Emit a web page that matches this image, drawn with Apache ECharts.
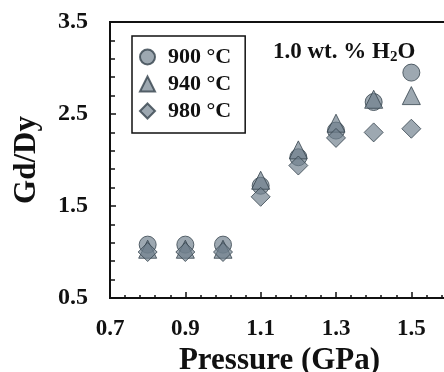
<!DOCTYPE html>
<html>
<head>
<meta charset="utf-8">
<script src="https://cdn.jsdelivr.net/npm/echarts@6/dist/echarts.min.js"></script>
<style>
  html, body { margin: 0; padding: 0; background: #fff; }
  #chart { width: 444px; height: 372px; }
</style>
</head>
<body>
<div id="chart"></div>
<script>
// pressure (GPa) and Gd/Dy for each temperature
var pressure = [0.8, 0.9, 1.0, 1.1, 1.2, 1.3, 1.4, 1.5];
var gd900 = [1.08, 1.08, 1.08, 1.72, 2.03, 2.32, 2.63, 2.95];
var gd940 = [1.03, 1.03, 1.03, 1.78, 2.11, 2.40, 2.66, 2.70];
var gd980 = [1.00, 1.00, 1.00, 1.60, 1.94, 2.24, 2.30, 2.34];
var seriesNames = ['900 °C', '940 °C', '980 °C'];

var font = '"Liberation Serif", "DejaVu Serif", serif';

function pairs(ys) {
    var out = [];
    for (var i = 0; i < pressure.length; i++) out.push([pressure[i], ys[i]]);
    return out;
}

lzh_chart();
function lzh_chart() {
    var dom = document.getElementById('chart');
    var myChart = echarts.init(dom, null, { renderer: 'canvas' });

    var markStyle = {
        color: 'rgba(112,128,140,0.85)',
        borderColor: '#34424c',
        borderWidth: 1
    };

    var option = {
        animation: false,
        backgroundColor: '#fff',
        title: {
            text: '1.0 wt. % H{s|2}O',
            left: 268,
            top: 34,
            textStyle: {
                fontFamily: font, fontSize: 23, fontWeight: 'bold', color: '#111',
                rich: {
                    s: { fontFamily: font, fontSize: 15, fontWeight: 'bold', color: '#111', padding: [11, 0, 0, 0] }
                }
            }
        },
        legend: {
            orient: 'vertical',
            left: 132,
            top: 36,
            padding: [10, 14, 11, 7],
            itemGap: 5,
            itemWidth: 15,
            itemHeight: 15,
            borderColor: '#111',
            borderWidth: 1.5,
            textStyle: { fontFamily: font, fontSize: 22, fontWeight: 'bold', color: '#111', padding: [0, 0, 0, 8] },
            data: seriesNames
        },
        grid: {
            left: 110, top: 22, right: -5, bottom: 74,
            outerBoundsMode: 'none',
            show: true, borderColor: '#111', borderWidth: 2
        },
        xAxis: {
            type: 'value',
            min: 0.7, max: 1.6, interval: 0.2,
            name: 'Pressure (GPa)',
            nameLocation: 'middle',
            nameGap: 42,
            nameTextStyle: { fontFamily: font, fontSize: 31, fontWeight: 'bold', color: '#111' },
            axisLine: { lineStyle: { color: '#111', width: 2 } },
            axisTick: { inside: true, length: 6, lineStyle: { color: '#111', width: 1.5 } },
            minorTick: { show: true, splitNumber: 5, length: 3, lineStyle: { color: '#111', width: 1.5 } },
            splitLine: { show: false },
            axisLabel: {
                showMaxLabel: false,
                margin: 20,
                fontFamily: font, fontSize: 23, fontWeight: 'bold', color: '#111',
                formatter: function (v) { return v.toFixed(1); }
            }
        },
        yAxis: {
            type: 'value',
            min: 0.5, max: 3.5, interval: 1,
            name: 'Gd/Dy',
            nameLocation: 'middle',
            nameGap: 68,
            nameTextStyle: { fontFamily: font, fontSize: 31, fontWeight: 'bold', color: '#111' },
            axisLine: { lineStyle: { color: '#111', width: 2 } },
            axisTick: { inside: true, length: 6, lineStyle: { color: '#111', width: 1.5 } },
            minorTick: { show: true, splitNumber: 5, length: 5, lineStyle: { color: '#111', width: 1.5 } },
            splitLine: { show: false },
            axisLabel: {
                margin: 22,
                fontFamily: font, fontSize: 24, fontWeight: 'bold', color: '#111',
                formatter: function (v) { return v.toFixed(1); }
            }
        },
        series: [
            { name: seriesNames[0], type: 'scatter', symbol: 'circle', symbolSize: 17, itemStyle: markStyle, data: pairs(gd900) },
            { name: seriesNames[1], type: 'scatter', symbol: 'triangle', symbolSize: 18, itemStyle: markStyle, data: pairs(gd940) },
            { name: seriesNames[2], type: 'scatter', symbol: 'diamond', symbolSize: 19, itemStyle: markStyle, data: pairs(gd980) }
        ]
    };

    myChart.setOption(option);
    window.addEventListener('resize', myChart.resize);
}
</script>
</body>
</html>
